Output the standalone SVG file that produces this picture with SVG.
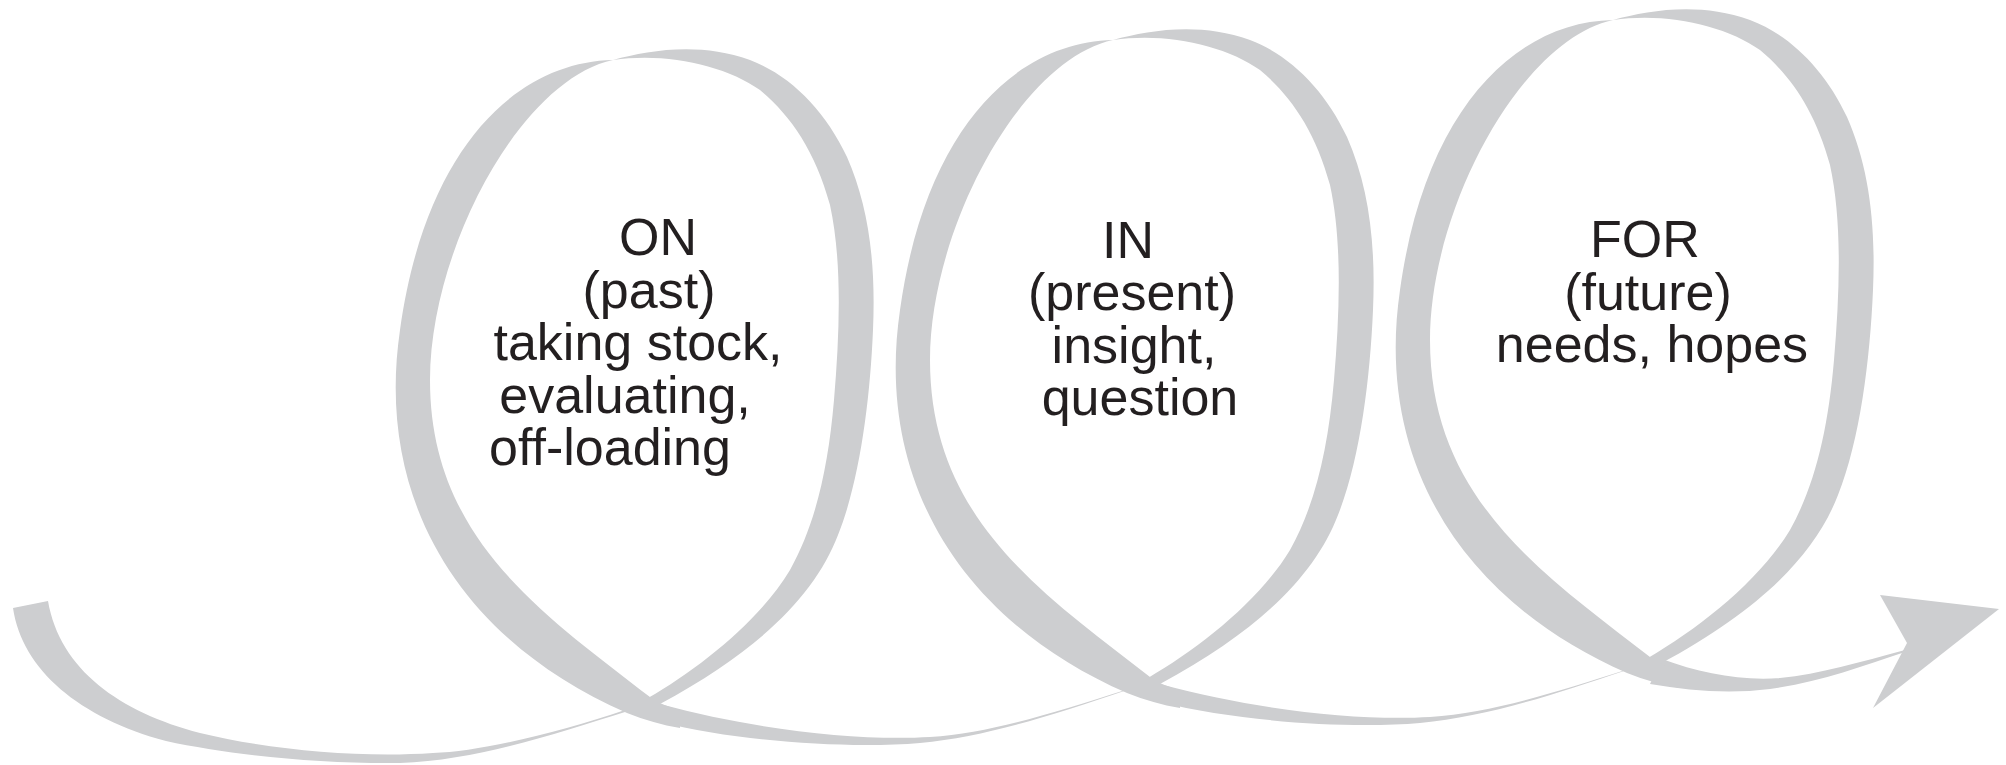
<svg xmlns="http://www.w3.org/2000/svg" width="2006" height="765" viewBox="0 0 2006 765">
<style>
.rib{fill:#cdced0}
.lbl{font-family:"Liberation Sans",Arial,Helvetica,sans-serif;font-size:52px;fill:#231f20;text-anchor:middle}
</style>
<defs>
<path id="rb" d="M 648,698 C 700,668 760,620 790,570 C 815,525 828,470 834,400 C 840,330 842,260 830,205 C 815,150 790,115 760,90 C 725,65 665,52 613,60 C 650,50 700,42 750,60 C 790,75 825,110 847,157 C 868,205 876,260 873,330 C 870,400 860,480 838,535 C 815,595 760,650 660,704 Z"/>
<path id="lb" d="M 613,60 C 515,62 425,150 400,330 C 375,500 460,640 627,713 C 645,720 662,725 680,728 L 680,711 C 670,706 662,706 650,697 C 545,615 430,540 430,380 C 430,250 520,80 613,60 Z"/>
<path id="sw" d="M 660,722 C 740,742 850,749 920,743 C 985,737 1050,716 1127,690 L 1127,689.5 C 1050,714 990,733 930,737 C 860,741 760,731 660,704 Z"/>
</defs>
<g id="connectors" class="rib">
<path id="start-sweep" d="M 13,608 C 22,670 80,718 166,741 C 230,755 320,764 400,763 C 480,760 560,732 625,712 L 625,710 C 560,732 480,752 433,753 C 360,758 270,750 200,733 C 120,712 60,670 48,601 Z"/>
<use id="sweep-1-2" href="#sw"/>
<use id="sweep-2-3" href="#sw" transform="translate(500,-20)"/>
<path id="tail" d="M 1650,684 C 1690,691 1730,694 1770,689 C 1820,682 1860,667 1905,652 L 1905,650 C 1860,662 1820,674 1780,678 C 1740,681 1700,673 1662,659 Z"/>
<polygon id="arrowhead" points="1880,595 1999,609 1873,708 1907,643"/>
</g>
<g id="node-on">
<g class="rib"><use href="#lb"/><use href="#rb"/></g>
<text class="lbl"><tspan x="658" y="255">ON</tspan><tspan x="649" y="307.5">(past)</tspan><tspan x="638" y="360">taking stock,</tspan><tspan x="625" y="412.5">evaluating,</tspan><tspan x="610" y="465">off-loading</tspan></text>
</g>
<g id="node-in">
<g class="rib" transform="translate(500,-20)"><use href="#lb"/><use href="#rb"/></g>
<text class="lbl"><tspan x="1128" y="258">IN</tspan><tspan x="1132" y="310">(present)</tspan><tspan x="1134" y="363">insight,</tspan><tspan x="1140" y="415">question</tspan></text>
</g>
<g id="node-for">
<g class="rib" transform="translate(1000,-40)"><use href="#lb"/><use href="#rb"/></g>
<text class="lbl"><tspan x="1645" y="257">FOR</tspan><tspan x="1648" y="310">(future)</tspan><tspan x="1652" y="362">needs, hopes</tspan></text>
</g>
</svg>
